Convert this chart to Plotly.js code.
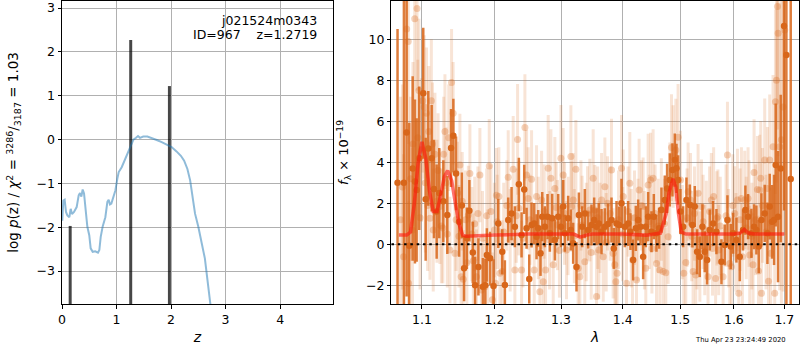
<!DOCTYPE html>
<html>
<head>
<meta charset="utf-8">
<script src="https://cdn.plot.ly/plotly-3.0.1.min.js"></script>
<style>html,body{margin:0;padding:0;background:#fff}#plot{width:800px;height:350px}</style>
</head>
<body>
<div id="plot"></div>
<script>
// ---------- left panel: log p(z) ----------
const zGrid = [0.005, 0.024, 0.049, 0.073, 0.098, 0.135, 0.159, 0.183, 0.22, 0.269, 0.306, 0.33, 0.355, 0.379, 0.404, 0.428, 0.465, 0.50, 0.526, 0.563, 0.61, 0.66, 0.685, 0.71, 0.746, 0.795, 0.832, 0.856, 0.88, 0.905, 0.942, 0.979, 1.015, 1.04, 1.095, 1.156, 1.217, 1.26, 1.31, 1.358, 1.394, 1.43, 1.49, 1.566, 1.645, 1.737, 1.829, 1.92, 2.01, 2.10, 2.18, 2.24, 2.30, 2.35, 2.40, 2.44, 2.50, 2.56, 2.62, 2.72, 2.80];
const logPz = [-1.85, -1.39, -1.37, -1.65, -1.73, -1.77, -1.58, -1.70, -1.65, -1.54, -1.27, -1.22, -1.30, -1.14, -1.23, -1.61, -1.99, -2.18, -2.48, -2.56, -2.55, -2.58, -2.52, -2.22, -1.98, -1.77, -1.42, -1.37, -1.48, -1.46, -1.31, -1.16, -0.89, -0.74, -0.63, -0.44, -0.29, -0.14, 0.0, 0.04, 0.08, 0.04, 0.07, 0.07, 0.04, -0.01, -0.06, -0.11, -0.17, -0.27, -0.37, -0.48, -0.67, -0.93, -1.39, -1.69, -1.99, -2.37, -2.71, -3.74, -4.4];
const peakZ = [0.15, 1.26, 1.97];
const peakVal = [-1.97, 2.27, 1.22];
const barBase = -4;

// ---------- right panel: spectrum ----------
const darkWave = [
 1.0682, 1.0764, 1.0799, 1.0833, 1.0878, 1.0908, 1.0930, 1.0964, 1.1017, 1.1049, 1.1084, 1.1129, 1.1160, 1.1196, 1.1231, 1.1286, 1.1340, 1.1391, 1.1423, 1.1460, 1.1502, 1.1540, 1.1571, 1.1609, 1.1645, 1.1693, 1.1725, 1.1772, 1.1835, 1.1870, 1.1892, 1.1939, 1.1987,
 1.2056, 1.2114, 1.2152, 1.2201, 1.2250, 1.2299, 1.2358, 1.2398, 1.2438, 1.2473, 1.2513, 1.2548, 1.2588, 1.2623, 1.2649, 1.2684, 1.2710, 1.2750, 1.2791, 1.2827, 1.2863, 1.2904, 1.2956, 1.2998, 1.3034, 1.3060, 1.3112, 1.3154, 1.3191, 1.3244, 1.3282, 1.3335, 1.3377, 1.3431, 1.3485, 1.3528, 1.3566, 1.3604, 1.3648, 1.3702, 1.3757, 1.3813,
 1.3851, 1.3896, 1.3940, 1.3979, 1.4036, 1.4092, 1.4131, 1.4177, 1.4222, 1.4262, 1.4302, 1.4348, 1.4394, 1.4434, 1.4492, 1.4533, 1.4579, 1.4626, 1.4667, 1.4726, 1.4767, 1.4815, 1.4862, 1.4904, 1.4934, 1.4964, 1.5005, 1.5054, 1.5114, 1.5175, 1.5223, 1.5266, 1.5309, 1.5358, 1.5407, 1.5450, 1.5494, 1.5543, 1.5606, 1.5668,
 1.5763, 1.5826, 1.5877, 1.5940, 1.5985, 1.6049, 1.6113, 1.6178, 1.6223, 1.6275, 1.6341, 1.6393, 1.6439, 1.6485, 1.6538, 1.6604, 1.6658, 1.6704, 1.6751, 1.6791, 1.6825, 1.6872, 1.6926, 1.6994, 1.7042, 1.7131];
const darkFlux = [
 3.0, 3.0, 5.46, -0.07, 3.7, 3.06, 2.65, 4.2, 7.37, 2.2, 4.68, 4.2, 2.7, 1.6, 2.5, 2.1, 1.43, 4.7, 5.3, 3.46, 1.1, 1.9, -1.17, 0.3, 1.64, -0.4, -2.0, -1.1, -2.07, -2.0, -0.52, -0.68, -2.03,
 1.02, -0.36, -1.98, 1.19, 1.5, 0.86, 2.93, 0.46, 2.68, 0.78, -1.69, 0.94, 1.02, 0.37, 0.78, -0.44, 1.35, 0.86, 1.35, 0.54, 1.27, 0.21, 1.35, 0.86, 1.84, 0.54, 1.27, 0.7, 0.05, -1.1, 1.43, 0.86, 1.5, 0.7, 0.94, 1.19, 0.86, 1.02, 0.62, 0.86, 0.99, 1.19,
 -0.2, 1.02, 0.94, 2.0, 0.86, 1.02, 0.62, -0.76, 0.78, 1.19, 0.86, -0.6, 0.86, 1.35, 0.62, 1.35, 0.54, 0.78, 1.67, 2.16, 2.73, 3.14, 3.63, 4.11, 3.71, 3.14, 1.6, 0.86, 2.16, 1.92, 0.94, 1.84, -0.36, -0.6, 0.86, -0.36, -0.76, 0.7, 1.02, 0.62,
 -0.85, -0.03, 1.19, -0.11, 0.54, 0.21, -0.6, 0.7, 1.67, 1.35, 0.54, 0.86, 0.7, -0.11, 1.19, 1.51, 0.54, 1.84, 1.1, 1.19, 3.87, 1.35, 3.7, 10.65, 9.24, 3.19];
const darkErr = [
 7.5, 12, 8, 6, 4.5, 4, 3.5, 3.5, 3.2, 3.0, 2.8, 2.6, 2.4, 2.3, 2.2, 2.0, 1.9, 1.9, 1.8, 1.8, 1.7, 1.6, 1.6, 1.5, 1.5, 1.5, 1.4, 1.4, 1.4, 1.3, 1.3, 1.3, 1.3,
 1.2, 1.1, 1.2, 1.1, 1.3, 1.0, 1.3, 1.1, 1.2, 1.0, 1.2, 1.1, 1.0, 1.1, 0.9, 1.1, 1.2, 1.0, 1.1, 0.9, 1.2, 1.0, 1.1, 1.0, 1.3, 0.9, 1.1, 1.0, 1.0, 1.2, 1.1, 1.0, 1.2, 0.9, 1.0, 1.1, 0.9, 1.0, 1.1, 0.9, 1.0, 1.1,
 1.0, 1.1, 0.9, 1.2, 1.0, 1.1, 0.9, 1.0, 1.1, 1.0, 0.9, 1.1, 1.0, 1.2, 1.0, 1.1, 0.9, 1.0, 1.1, 1.2, 1.2, 1.3, 1.3, 1.3, 1.2, 1.2, 1.1, 1.0, 1.1, 1.0, 1.1, 1.0, 1.1, 1.0, 1.1, 1.0, 1.2, 1.0, 1.1, 1.1,
 1.1, 1.0, 1.2, 1.1, 1.0, 1.1, 1.2, 1.0, 1.2, 1.1, 1.2, 1.1, 1.2, 1.3, 1.3, 1.4, 1.5, 1.6, 1.8, 2.2, 3.0, 3.2, 3.6, 9, 14, 20];

const lightWave = [
 1.0720, 1.0760, 1.0800, 1.0820, 1.0825, 1.0875, 1.0882, 1.0905, 1.0935, 1.0960, 1.0975, 1.1010, 1.1030, 1.1060, 1.1090, 1.1106, 1.1125, 1.1150, 1.1173, 1.1200, 1.1240, 1.1260, 1.1290, 1.1308, 1.1340, 1.1376, 1.1398, 1.1420, 1.1445, 1.1480, 1.1513, 1.1530, 1.1560, 1.1590, 1.1630, 1.1652, 1.1680, 1.1700, 1.1745, 1.1765, 1.1793, 1.1815, 1.1864, 1.1890, 1.1926, 1.1970, 1.2000, 1.2030,
 1.0745, 1.0850, 1.0945, 1.0995, 1.1045, 1.1075, 1.1140, 1.1215, 1.1280, 1.1325, 1.1360, 1.1460, 1.1500, 1.1545, 1.1610, 1.1720, 1.1830, 1.1905, 1.1950, 1.2015,
 1.2065, 1.2080, 1.2113, 1.2201, 1.2274, 1.2299, 1.2339, 1.2358, 1.2398, 1.2448, 1.2473, 1.2498, 1.2548, 1.2588, 1.2623, 1.2674, 1.2700, 1.2725, 1.2761, 1.2801, 1.2843, 1.2879, 1.2904, 1.2946, 1.2998, 1.3034, 1.3086, 1.3155, 1.3166, 1.3192, 1.3234, 1.3270, 1.3297, 1.3334, 1.3377, 1.3421, 1.3458, 1.3512, 1.3539, 1.3567, 1.3605, 1.3649, 1.3676, 1.3703, 1.3747, 1.3813, 1.3840,
 1.2040, 1.2135, 1.2180, 1.2230, 1.2320, 1.2420, 1.2525, 1.2650, 1.2740, 1.2822, 1.2925, 1.2975, 1.3055, 1.3110, 1.3210, 1.3315, 1.3400, 1.3480, 1.3585, 1.3625, 1.3725, 1.3790,
 1.3868, 1.3885, 1.3907, 1.3980, 1.4008, 1.4064, 1.4120, 1.4166, 1.4234, 1.4279, 1.4348, 1.4394, 1.4434, 1.4476, 1.4521, 1.4580, 1.4638, 1.4697, 1.4744, 1.4785, 1.4815, 1.4845, 1.4874, 1.4922, 1.4963, 1.5006, 1.5066, 1.5102, 1.5144, 1.5188, 1.5235, 1.5284, 1.5327, 1.5389, 1.5450, 1.5511, 1.5573, 1.5616, 1.5653, 1.5696,
 1.3930, 1.4000, 1.4090, 1.4145, 1.4200, 1.4260, 1.4320, 1.4370, 1.4455, 1.4500, 1.4555, 1.4610, 1.4665, 1.4720, 1.5040, 1.5125, 1.5210, 1.5260, 1.5305, 1.5360, 1.5420, 1.5480, 1.5540, 1.5595,
 1.5675, 1.5712, 1.5794, 1.5877, 1.5921, 1.5953, 1.6017, 1.6069, 1.6094, 1.6146, 1.6210, 1.6275, 1.6308, 1.6373, 1.6393, 1.6459, 1.6505, 1.6525, 1.6538, 1.6604, 1.6658, 1.6704, 1.6724, 1.6771, 1.6805, 1.6819, 1.6840, 1.6860, 1.6873, 1.6906, 1.6940, 1.6974, 1.7008,
 1.5740, 1.5850, 1.5900, 1.5980, 1.6040, 1.6120, 1.6165, 1.6240, 1.6295, 1.6350, 1.6420, 1.6480, 1.6560, 1.6630, 1.6680];
const lightFlux = [
 1.2, -0.6, 10.5, 9.9, -1.9, 0.7, 4.9, 11.0, 11.5, 7.5, 1.3, 7.0, 6.7, 6.4, 5.5, 1.27, 7.0, 0.7, 4.4, 2.1, 1.84, 0.9, 4.4, 5.5, 0.5, -0.28, 7.9, 6.4, -0.44, 2.5, 3.87, -1.58, -1.7, 1.2, 1.43, 3.46, 0.5, -0.8, -1.58, 1.5, 3.38, -2.23, -2.07, 1.4, 3.82, -2.7, 0.7, 2.4,
 2.8, 3.2, 5.2, 4.6, 3.0, 1.9, 4.9, 3.6, 0.8, 3.0, 5.2, 1.2, 0.4, 2.1, -0.9, 1.0, 0.3, -0.6, 1.6, -1.9,
 2.33, -1.41, -1.33, 3.27, 3.66, -1.25, 5.12, 1.76, -1.25, 5.7, 3.38, 2.24, 3.17, -1.25, 2.33, -2.31, 2.16, -1.82, -1.25, 3.71, 3.22, -1.0, 2.73, 0.94, 4.2, 3.38, -0.28, 4.28, 1.84, 2.16, 3.66, -1.17, -1.58, 0.94, -0.85, 1.51, 1.67, 3.22, 1.67, -2.55, -0.28, 2.16, -0.6, 2.81, 2.0, 3.63, -0.44,
 1.1, 0.6, 1.9, 0.2, 1.4, 0.3, 1.2, 0.8, 1.6, 0.2, 1.8, -0.3, 1.5, 0.9, 0.4, 1.9, 0.6, -0.4, 1.3, 0.8, 0.1, 1.5,
 -1.0, -1.82, -1.41, 3.71, 2.33, -1.9, 2.98, -0.76, -1.74, 2.65, 1.84, -1.17, 2.89, 3.14, 3.22, -0.93, -1.25, -1.33, -1.38, 0.37, 2.57, 4.72, 4.28, 4.6, 5.22, 3.14, -1.41, -0.89, 2.57, 2.16, -1.33, -1.49, 2.49, 1.84, -0.28, -1.58, 2.16, 2.33, -1.67, 1.35,
 1.2, 0.5, 1.6, 0.3, 1.3, 0.7, 1.9, 0.2, 1.1, -0.2, 1.5, 0.9, 1.7, 1.0, 0.6, 1.3, 0.4, 1.5, 0.2, -0.6, 1.1, 0.7, 1.6, -0.2,
 1.27, -0.28, -1.58, 4.36, -0.93, -1.09, 1.51, 2.16, -2.39, 2.24, 2.16, 2.24, -0.52, -1.0, 3.5, 2.68, 2.65, 3.22, -2.39, 4.11, 2.72, 4.11, -0.44, 4.76, -2.39, 6.96, 8.0, 11.6, 10.3, 4.76, 5.1, 6.7, 10.46,
 0.9, 1.4, 0.3, 1.9, 0.1, 1.2, -0.6, 0.8, 1.5, 0.4, 1.2, -1.3, 1.9, 0.6, -1.8];
const lightErr = [
 6, 5, 5, 5, 4, 4, 4, 4, 4, 3.5, 3.5, 3.5, 3.5, 3.2, 3.2, 3, 3, 3, 3, 3, 2.8, 2.8, 2.8, 2.8, 2.6, 2.6, 2.6, 2.5, 2.5, 2.5, 2.5, 2.4, 2.4, 2.4, 2.4, 2.4, 2.3, 2.3, 2.3, 2.3, 2.3, 2.3, 2.3, 2.3, 2.3, 2.3, 2.3, 2.3,
 5, 4, 3.8, 3.5, 3.4, 3.2, 3, 2.8, 2.7, 2.7, 2.6, 2.5, 2.5, 2.4, 2.4, 2.3, 2.3, 2.3, 2.3, 2.3,
 2.4, 2.2, 2.5, 2.3, 2.6, 2.2, 2.7, 2.3, 2.4, 2.6, 2.2, 2.5, 2.4, 2.3, 2.5, 2.2, 2.4, 2.3, 2.2, 2.6, 2.4, 2.3, 2.5, 2.2, 2.6, 2.3, 2.4, 2.5, 2.2, 2.3, 2.4, 2.2, 2.3, 2.4, 2.2, 2.3, 2.5, 2.4, 2.2, 2.3, 2.4, 2.3, 2.2, 2.4, 2.3, 2.5, 2.2,
 2.3, 2.4, 2.2, 2.5, 2.3, 2.4, 2.2, 2.5, 2.3, 2.4, 2.2, 2.3, 2.5, 2.4, 2.3, 2.2, 2.4, 2.3, 2.5, 2.2, 2.4, 2.3,
 2.3, 2.2, 2.4, 2.6, 2.3, 2.4, 2.5, 2.2, 2.3, 2.5, 2.4, 2.2, 2.5, 2.3, 2.4, 2.2, 2.3, 2.4, 2.2, 2.3, 2.4, 2.6, 2.5, 2.5, 2.6, 2.4, 2.3, 2.2, 2.4, 2.3, 2.2, 2.3, 2.4, 2.3, 2.2, 2.4, 2.3, 2.4, 2.2, 2.3,
 2.4, 2.3, 2.2, 2.4, 2.3, 2.5, 2.2, 2.4, 2.3, 2.2, 2.4, 2.3, 2.5, 2.2, 2.3, 2.4, 2.2, 2.3, 2.4, 2.2, 2.3, 2.4, 2.2, 2.3,
 2.3, 2.2, 2.4, 2.6, 2.3, 2.4, 2.3, 2.5, 2.4, 2.5, 2.4, 2.5, 2.4, 2.5, 2.6, 2.6, 2.7, 2.8, 2.8, 3.0, 3.0, 3.2, 3.2, 3.5, 3.5, 4.5, 5, 6, 6, 7, 8, 9, 10,
 2.4, 2.5, 2.4, 2.5, 2.4, 2.5, 2.6, 2.5, 2.6, 2.6, 2.7, 2.7, 2.8, 2.8, 3.0];

const modelWave = [1.070, 1.080, 1.085, 1.090, 1.095, 1.100, 1.105, 1.110, 1.115, 1.120, 1.125, 1.130, 1.1345, 1.140, 1.145, 1.150, 1.155, 1.160, 1.200, 1.250, 1.300, 1.320, 1.330, 1.340, 1.350, 1.400, 1.440, 1.465, 1.475, 1.480, 1.487, 1.492, 1.497, 1.502, 1.510, 1.600, 1.612, 1.620, 1.628, 1.640, 1.700];
const modelFlux = [0.45, 0.45, 0.6, 2.0, 4.0, 5.0, 4.2, 2.6, 1.6, 1.6, 2.4, 3.3, 3.6, 3.1, 2.0, 1.0, 0.45, 0.4, 0.45, 0.5, 0.5, 0.5, 0.35, 0.45, 0.5, 0.5, 0.45, 0.55, 1.5, 2.5, 3.2, 2.8, 1.5, 0.6, 0.5, 0.5, 0.55, 0.72, 0.55, 0.5, 0.5];

const lamTicks = [1.1, 1.2, 1.3, 1.4, 1.5, 1.6, 1.7];
const lamTickText = ['1.1', '1.2', '1.3', '1.4', '1.5', '1.6', '1.7'];
const fluxTicks = [-2, 0, 2, 4, 6, 8, 10];

const C_DARK = '#d8661a';
const FONT = 'DejaVu Sans, sans-serif';

const traces = [
  {x: zGrid, y: logPz, xaxis: 'x', yaxis: 'y', type: 'scatter', mode: 'lines',
   line: {color: 'rgba(31,119,180,0.5)', width: 2}, hoverinfo: 'skip'},
  {x: peakZ, y: peakVal.map(v => v - barBase), base: barBase, xaxis: 'x', yaxis: 'y', type: 'bar',
   width: 0.055, marker: {color: 'rgba(0,0,0,0.72)', line: {width: 0}}, hoverinfo: 'skip'},
  {x: lightWave, y: lightFlux, xaxis: 'x2', yaxis: 'y2', type: 'scatter', mode: 'markers',
   marker: {color: 'rgba(218,105,30,0.3)', size: 7, line: {width: 0}},
   error_y: {type: 'data', array: lightErr, visible: true, color: 'rgba(218,105,30,0.18)', thickness: 3, width: 0},
   hoverinfo: 'skip'},
  {x: darkWave, y: darkFlux, xaxis: 'x2', yaxis: 'y2', type: 'scatter', mode: 'markers',
   marker: {color: C_DARK, size: 6.5, line: {width: 0}},
   error_y: {type: 'data', array: darkErr, visible: true, color: 'rgba(216,102,26,0.85)', thickness: 2.5, width: 0},
   hoverinfo: 'skip'},
  {x: modelWave, y: modelFlux, xaxis: 'x2', yaxis: 'y2', type: 'scatter', mode: 'lines',
   line: {color: 'rgba(255,20,10,0.6)', width: 3.5}, hoverinfo: 'skip'}
];

const axBase = {
  showgrid: true, gridcolor: '#b0b0b0', gridwidth: 1,
  showline: true, linecolor: 'black', linewidth: 1, mirror: true,
  ticks: 'outside', ticklen: 3.5, tickwidth: 1, tickcolor: 'black',
  zeroline: false, tickfont: {family: FONT, size: 12.5, color: 'black'}
};

const layout = {
  width: 800, height: 350,
  margin: {l: 62, r: 1, t: 1, b: 46},
  paper_bgcolor: 'white', plot_bgcolor: 'white',
  font: {family: FONT, size: 12.5, color: 'black'},
  showlegend: false,
  xaxis: Object.assign({}, axBase, {domain: [0, 0.36771], range: [0, 4.97], tickvals: [0, 1, 2, 3, 4], anchor: 'y',
    title: {text: '<i>z</i>', font: {family: FONT, size: 14}, standoff: 6}}),
  yaxis: Object.assign({}, axBase, {domain: [0, 1], range: [-3.75, 3.16], tickvals: [-3, -2, -1, 0, 1, 2, 3], anchor: 'x',
    title: {text: 'log <i>p</i>(z) / <i>χ</i><sup>2</sup> = <sup>3286</sup>/<sub>3187</sub> = 1.03', font: {family: FONT, size: 13.5}, standoff: 14}}),
  xaxis2: Object.assign({}, axBase, {domain: [0.44708, 1], type: 'log', range: [0.0255, 0.2381], tickvals: lamTicks, ticktext: lamTickText, anchor: 'y2',
    title: {text: '<i>λ</i>', font: {family: FONT, size: 14}, standoff: 6}}),
  yaxis2: Object.assign({}, axBase, {domain: [0, 1], range: [-2.91, 11.87], tickvals: fluxTicks, anchor: 'x2',
    title: {text: '<i>f</i><sub>λ</sub> × 10<sup>−19</sup>', font: {family: FONT, size: 13}, standoff: 14}}),
  shapes: [
    {type: 'line', xref: 'x2 domain', yref: 'y2', x0: 0, x1: 1, y0: 0, y1: 0,
     line: {color: 'black', width: 2, dash: '2.5px,3.8px'}, layer: 'above'}
  ],
  annotations: [
    {xref: 'paper', yref: 'paper', x: 0.3487, y: 0.937, xanchor: 'right', yanchor: 'middle', showarrow: false,
     text: 'j021524m0343', font: {family: FONT, size: 12.5, color: 'black'}},
    {xref: 'paper', yref: 'paper', x: 0.3487, y: 0.888, xanchor: 'right', yanchor: 'middle', showarrow: false,
     text: 'ID=967\u00a0\u00a0\u00a0\u00a0z=1.2719', font: {family: FONT, size: 12.5, color: 'black'}},
    {xref: 'paper', yref: 'paper', x: 0.985, y: -0.119, xanchor: 'right', yanchor: 'middle', showarrow: false,
     text: 'Thu Apr 23 23:24:49 2020', font: {family: FONT, size: 6.8, color: 'black'}}
  ]
};

Plotly.newPlot('plot', traces, layout, {staticPlot: true, displayModeBar: false});
</script>
</body>
</html>
